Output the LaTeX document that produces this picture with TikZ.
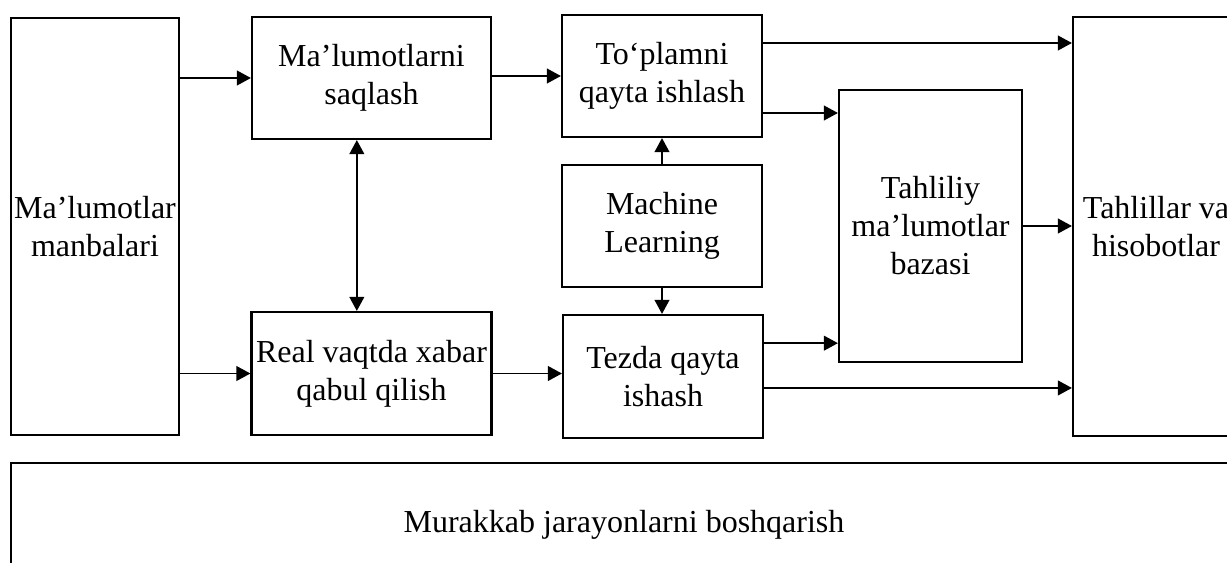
\documentclass[tikz,border=0pt]{standalone}
\usepackage{fontspec}
\setmainfont{Liberation Serif}
\usetikzlibrary{arrows.meta,positioning}

\begin{document}
\begin{tikzpicture}[
  x=0.75pt, y=-0.75pt,
  font=\fontsize{24}{28.5}\selectfont,
  box/.style={draw, line width=1.6pt, align=center, inner sep=0pt},
  boxsize/.style 2 args={minimum width={#1*0.75pt}, minimum height={#2*0.75pt}},
  arrow/.style={line width=1.35pt, -{Triangle[length=10.5pt,width=11pt]}},
  dblarrow/.style={line width=1.35pt, {Triangle[length=10.5pt,width=11pt]}-{Triangle[length=10.5pt,width=11pt]}},
]
\useasboundingbox (0,0) rectangle (1227,563);

\node[box, boxsize={168}{417}] (src) at (95,226.5) {Ma’lumotlar\\manbalari};
\node[box, boxsize={239}{122}] (store) at (371.5,78) {Ma’lumotlarni\\saqlash};
\node[box, boxsize={240}{123}] (realtime) at (371.5,373.5) {Real vaqtda xabar\\qabul qilish};
\node[box, boxsize={200}{122}] (batch) at (662,76) {To‘plamni\\qayta ishlash};
\node[box, boxsize={200}{122}] (ml) at (662,226) {Machine\\Learning};
\node[box, boxsize={200}{123}] (fast) at (663,376.5) {Tezda qayta\\ishash};
\node[box, boxsize={183}{272}] (db) at (930.5,226) {Tahliliy\\ma’lumotlar\\bazasi};
\node[box, boxsize={166}{419}] (out) at (1156,226.5) {Tahlillar va\\hisobotlar};
\node[box, boxsize={1226}{124}] (mgmt) at (624,525) {Murakkab jarayonlarni boshqarish};

% sources
\draw[arrow] (src.east |- store.west) -- (store.west);
\draw[arrow] (src.east |- realtime.west) -- (realtime.west);
\draw[dblarrow] ([xshift=-11pt]store.south) -- ([xshift=-11pt]realtime.north);

% processing
\draw[arrow] (store.east |- batch.west) -- (batch.west);
\draw[arrow] (realtime.east) -- (realtime.east -| fast.west);
\draw[arrow] (ml.north) -- (batch.south);
\draw[arrow] (ml.south) -- (ml.south |- fast.north);

% outputs
\coordinate (b1) at ([yshift=24.75pt]batch.east);
\coordinate (b2) at ([yshift=-27.75pt]batch.east);
\coordinate (f1) at ([yshift=25pt]fast.east);
\coordinate (f2) at ([yshift=-8.6pt]fast.east);
\draw[arrow] (b1) -- (b1 -| out.west);
\draw[arrow] (b2) -- (b2 -| db.west);
\draw[arrow] (f1) -- (f1 -| db.west);
\draw[arrow] (f2) -- (f2 -| out.west);
\draw[arrow] (db.east) -- (db.east -| out.west);
\end{tikzpicture}
\end{document}
